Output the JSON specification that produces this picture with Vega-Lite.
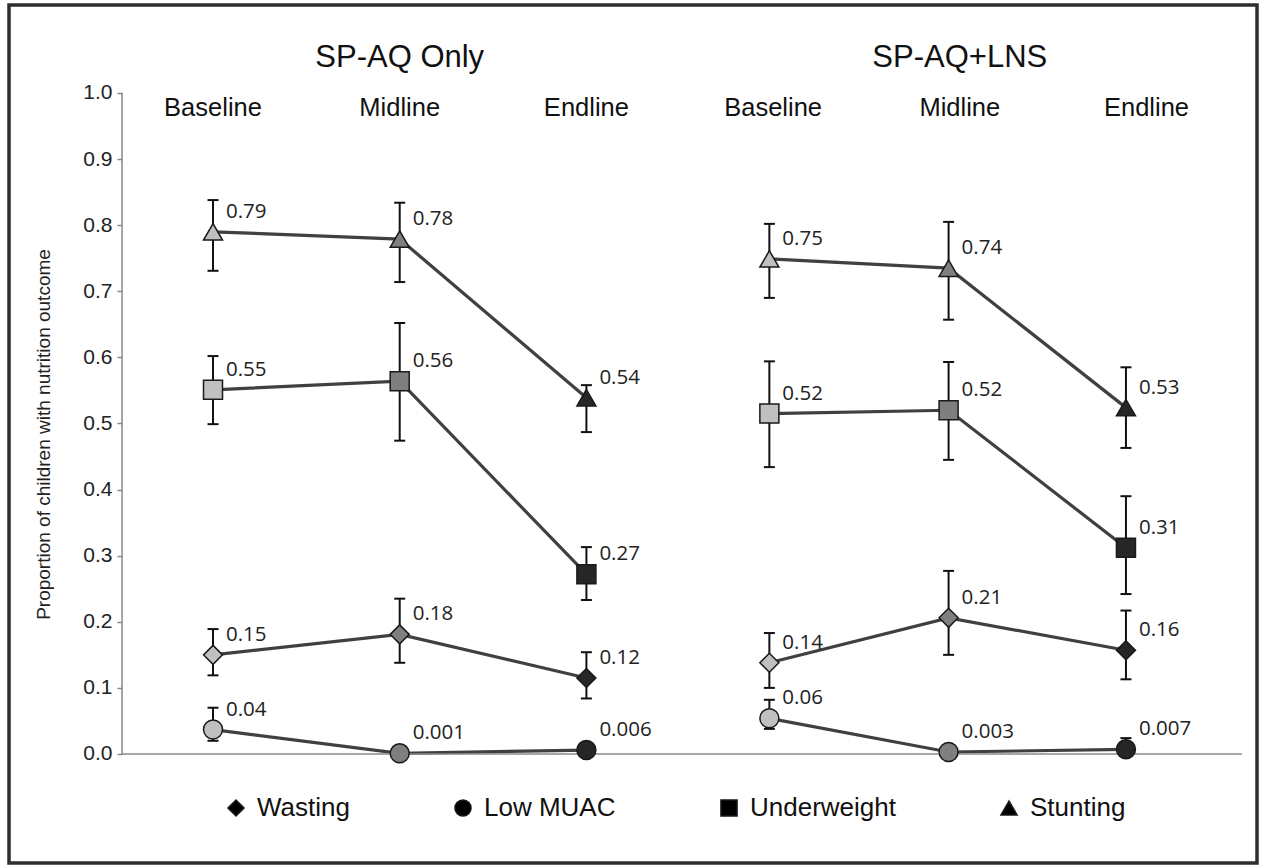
{
  "$schema": "https://vega.github.io/schema/vega-lite/v6.json",
  "width": 1261,
  "height": 865,
  "autosize": {"type": "fit", "contains": "padding"},
  "padding": {"left": 9, "top": 5, "right": 4, "bottom": 2},
  "background": "white",
  "config": {
    "view": {"stroke": "#2e2e2e", "strokeWidth": 3.5},
    "axis": {
      "labelFont": "Liberation Sans",
      "labelFontSize": 21,
      "labelColor": "#222222",
      "titleFont": "Liberation Sans",
      "titleFontSize": 19,
      "titleFontWeight": "normal",
      "titleColor": "#222222"
    },
    "axisY": {
      "offset": -113,
      "domain": false,
      "grid": false,
      "ticks": true,
      "tickSize": 5,
      "tickWidth": 1.5,
      "tickColor": "#888888",
      "labelFont": "Liberation Sans",
      "labelFontSize": 21,
      "labelColor": "#222222",
      "labelPadding": 5,
      "titleFont": "Liberation Sans",
      "titleFontSize": 19,
      "titleFontWeight": "normal",
      "titleColor": "#222222",
      "titlePadding": 29
    }
  },
  "datasets": {
    "points": [
      {"group": "SP-AQ Only", "time": "Baseline", "outcome": "Wasting", "pos": 1, "value": 0.150, "lo": 0.119, "hi": 0.189, "label": "0.15"},
      {"group": "SP-AQ Only", "time": "Midline", "outcome": "Wasting", "pos": 2, "value": 0.181, "lo": 0.138, "hi": 0.235, "label": "0.18"},
      {"group": "SP-AQ Only", "time": "Endline", "outcome": "Wasting", "pos": 3, "value": 0.115, "lo": 0.084, "hi": 0.154, "label": "0.12"},
      {"group": "SP-AQ Only", "time": "Baseline", "outcome": "Low MUAC", "pos": 1, "value": 0.037, "lo": 0.020, "hi": 0.070, "label": "0.04"},
      {"group": "SP-AQ Only", "time": "Midline", "outcome": "Low MUAC", "pos": 2, "value": 0.001, "lo": 0.001, "hi": 0.001, "label": "0.001"},
      {"group": "SP-AQ Only", "time": "Endline", "outcome": "Low MUAC", "pos": 3, "value": 0.006, "lo": 0.002, "hi": 0.010, "label": "0.006"},
      {"group": "SP-AQ Only", "time": "Baseline", "outcome": "Underweight", "pos": 1, "value": 0.551, "lo": 0.499, "hi": 0.602, "label": "0.55"},
      {"group": "SP-AQ Only", "time": "Midline", "outcome": "Underweight", "pos": 2, "value": 0.564, "lo": 0.474, "hi": 0.652, "label": "0.56"},
      {"group": "SP-AQ Only", "time": "Endline", "outcome": "Underweight", "pos": 3, "value": 0.272, "lo": 0.233, "hi": 0.313, "label": "0.27"},
      {"group": "SP-AQ Only", "time": "Baseline", "outcome": "Stunting", "pos": 1, "value": 0.790, "lo": 0.731, "hi": 0.838, "label": "0.79"},
      {"group": "SP-AQ Only", "time": "Midline", "outcome": "Stunting", "pos": 2, "value": 0.779, "lo": 0.714, "hi": 0.834, "label": "0.78"},
      {"group": "SP-AQ Only", "time": "Endline", "outcome": "Stunting", "pos": 3, "value": 0.539, "lo": 0.487, "hi": 0.558, "label": "0.54"},
      {"group": "SP-AQ+LNS", "time": "Baseline", "outcome": "Wasting", "pos": 3.98, "value": 0.138, "lo": 0.100, "hi": 0.183, "label": "0.14"},
      {"group": "SP-AQ+LNS", "time": "Midline", "outcome": "Wasting", "pos": 4.94, "value": 0.206, "lo": 0.150, "hi": 0.277, "label": "0.21"},
      {"group": "SP-AQ+LNS", "time": "Endline", "outcome": "Wasting", "pos": 5.89, "value": 0.157, "lo": 0.113, "hi": 0.217, "label": "0.16"},
      {"group": "SP-AQ+LNS", "time": "Baseline", "outcome": "Low MUAC", "pos": 3.98, "value": 0.054, "lo": 0.038, "hi": 0.082, "label": "0.06"},
      {"group": "SP-AQ+LNS", "time": "Midline", "outcome": "Low MUAC", "pos": 4.94, "value": 0.003, "lo": 0.001, "hi": 0.005, "label": "0.003"},
      {"group": "SP-AQ+LNS", "time": "Endline", "outcome": "Low MUAC", "pos": 5.89, "value": 0.007, "lo": 0.000, "hi": 0.024, "label": "0.007"},
      {"group": "SP-AQ+LNS", "time": "Baseline", "outcome": "Underweight", "pos": 3.98, "value": 0.515, "lo": 0.434, "hi": 0.594, "label": "0.52"},
      {"group": "SP-AQ+LNS", "time": "Midline", "outcome": "Underweight", "pos": 4.94, "value": 0.520, "lo": 0.445, "hi": 0.593, "label": "0.52"},
      {"group": "SP-AQ+LNS", "time": "Endline", "outcome": "Underweight", "pos": 5.89, "value": 0.312, "lo": 0.242, "hi": 0.390, "label": "0.31"},
      {"group": "SP-AQ+LNS", "time": "Baseline", "outcome": "Stunting", "pos": 3.98, "value": 0.749, "lo": 0.690, "hi": 0.802, "label": "0.75"},
      {"group": "SP-AQ+LNS", "time": "Midline", "outcome": "Stunting", "pos": 4.94, "value": 0.735, "lo": 0.657, "hi": 0.805, "label": "0.74"},
      {"group": "SP-AQ+LNS", "time": "Endline", "outcome": "Stunting", "pos": 5.89, "value": 0.524, "lo": 0.463, "hi": 0.585, "label": "0.53"}
    ],
    "headers": [
      {"pos": 1, "name": "Baseline"},
      {"pos": 2, "name": "Midline"},
      {"pos": 3, "name": "Endline"},
      {"pos": 4, "name": "Baseline"},
      {"pos": 5, "name": "Midline"},
      {"pos": 6, "name": "Endline"}
    ],
    "titles": [
      {"pos": 2, "name": "SP-AQ Only"},
      {"pos": 5, "name": "SP-AQ+LNS"}
    ]
  },
  "layer": [
    {
      "data": {"name": "points"},
      "mark": {"type": "line", "color": "#404040", "strokeWidth": 3.2},
      "encoding": {
        "x": {"field": "pos", "type": "quantitative", "axis": null, "scale": {"domain": [-0.0927, 6.5919], "nice": false, "zero": false}},
        "y": {
          "field": "value", "type": "quantitative",
          "title": "Proportion of children with nutrition outcome",
          "scale": {"domain": [-0.1649, 1.1331], "nice": false, "zero": false},
          "axis": {"values": [0, 0.1, 0.2, 0.3, 0.4, 0.5, 0.6, 0.7, 0.8, 0.9, 1.0], "format": ".1f", "labelFontSize": 21, "labelFont": "Liberation Sans", "labelColor": "#222222", "titleFontSize": 19, "titlePadding": 29}
        },
        "detail": [{"field": "group"}, {"field": "outcome"}],
        "order": {"field": "pos"}
      }
    },
    {
      "data": {"values": [{}]},
      "mark": {"type": "rule", "color": "#888888", "strokeWidth": 1.5},
      "encoding": {
        "x": {"datum": 0.5126, "axis": null},
        "y": {"datum": 0, "title": "Proportion of children with nutrition outcome", "axis": {"values": [0, 0.1, 0.2, 0.3, 0.4, 0.5, 0.6, 0.7, 0.8, 0.9, 1.0], "format": ".1f", "labelFontSize": 21, "labelFont": "Liberation Sans", "labelColor": "#222222", "titleFontSize": 19, "titlePadding": 29}},
        "y2": {"datum": 1}
      }
    },
    {
      "data": {"values": [{}]},
      "mark": {"type": "rule", "color": "#888888", "strokeWidth": 1.5},
      "encoding": {
        "x": {"datum": 0.5126, "axis": null},
        "x2": {"datum": 6.511},
        "y": {"datum": 0, "title": "Proportion of children with nutrition outcome", "axis": {"values": [0, 0.1, 0.2, 0.3, 0.4, 0.5, 0.6, 0.7, 0.8, 0.9, 1.0], "format": ".1f", "labelFontSize": 21, "labelFont": "Liberation Sans", "labelColor": "#222222", "titleFontSize": 19, "titlePadding": 29}}
      }
    },
    {
      "data": {"name": "points"},
      "mark": {"type": "rule", "color": "#111111", "strokeWidth": 2},
      "encoding": {
        "x": {"field": "pos", "type": "quantitative", "axis": null},
        "y": {"field": "lo", "type": "quantitative", "title": "Proportion of children with nutrition outcome", "axis": {"values": [0, 0.1, 0.2, 0.3, 0.4, 0.5, 0.6, 0.7, 0.8, 0.9, 1.0], "format": ".1f", "labelFontSize": 21, "labelFont": "Liberation Sans", "labelColor": "#222222", "titleFontSize": 19, "titlePadding": 29}},
        "y2": {"field": "hi"}
      }
    },
    {
      "data": {"name": "points"},
      "mark": {"type": "point", "shape": "stroke", "size": 121, "filled": false, "stroke": "#111111", "strokeWidth": 2, "opacity": 1},
      "encoding": {
        "x": {"field": "pos", "type": "quantitative", "axis": null},
        "y": {"field": "lo", "type": "quantitative", "title": "Proportion of children with nutrition outcome", "axis": {"values": [0, 0.1, 0.2, 0.3, 0.4, 0.5, 0.6, 0.7, 0.8, 0.9, 1.0], "format": ".1f", "labelFontSize": 21, "labelFont": "Liberation Sans", "labelColor": "#222222", "titleFontSize": 19, "titlePadding": 29}}
      }
    },
    {
      "data": {"name": "points"},
      "mark": {"type": "point", "shape": "stroke", "size": 121, "filled": false, "stroke": "#111111", "strokeWidth": 2, "opacity": 1},
      "encoding": {
        "x": {"field": "pos", "type": "quantitative", "axis": null},
        "y": {"field": "hi", "type": "quantitative", "title": "Proportion of children with nutrition outcome", "axis": {"values": [0, 0.1, 0.2, 0.3, 0.4, 0.5, 0.6, 0.7, 0.8, 0.9, 1.0], "format": ".1f", "labelFontSize": 21, "labelFont": "Liberation Sans", "labelColor": "#222222", "titleFontSize": 19, "titlePadding": 29}}
      }
    },
    {
      "data": {"name": "points"},
      "mark": {"type": "point", "filled": true, "size": 361, "stroke": "#1a1a1a", "strokeWidth": 1.5, "opacity": 1},
      "encoding": {
        "x": {"field": "pos", "type": "quantitative", "axis": null},
        "y": {"field": "value", "type": "quantitative", "title": "Proportion of children with nutrition outcome", "axis": {"values": [0, 0.1, 0.2, 0.3, 0.4, 0.5, 0.6, 0.7, 0.8, 0.9, 1.0], "format": ".1f", "labelFontSize": 21, "labelFont": "Liberation Sans", "labelColor": "#222222", "titleFontSize": 19, "titlePadding": 29}},
        "shape": {
          "field": "outcome", "type": "nominal",
          "scale": {"domain": ["Wasting", "Low MUAC", "Underweight", "Stunting"], "range": ["diamond", "circle", "square", "triangle-up"]},
          "legend": {
            "title": null,
            "orient": "none",
            "legendX": 214,
            "legendY": 790,
            "direction": "horizontal",
            "columns": 4,
            "columnPadding": 100,
            "padding": 0,
            "symbolSize": 260,
            "labelFont": "Liberation Sans",
            "labelFontSize": 26,
            "labelColor": "#111111",
            "labelOffset": 8,
            "labelLimit": 0,
            "encode": {"symbols": {"update": {"fill": {"value": "#000000"}, "stroke": {"value": "#000000"}, "opacity": {"value": 1}}}}
          }
        },
        "fill": {
          "field": "time", "type": "nominal",
          "scale": {"domain": ["Baseline", "Midline", "Endline"], "range": ["#c0c0c0", "#7f7f7f", "#262626"]},
          "legend": null
        }
      }
    },
    {
      "data": {"name": "points"},
      "mark": {"type": "text", "font": "Open Sans", "fontSize": 20.5, "color": "#222222", "align": "left", "baseline": "middle", "dx": 13, "dy": -20},
      "encoding": {
        "x": {"field": "pos", "type": "quantitative", "axis": null},
        "y": {"field": "value", "type": "quantitative", "title": "Proportion of children with nutrition outcome", "axis": {"values": [0, 0.1, 0.2, 0.3, 0.4, 0.5, 0.6, 0.7, 0.8, 0.9, 1.0], "format": ".1f", "labelFontSize": 21, "labelFont": "Liberation Sans", "labelColor": "#222222", "titleFontSize": 19, "titlePadding": 29}},
        "text": {"field": "label"}
      }
    },
    {
      "data": {"name": "headers"},
      "mark": {"type": "text", "font": "Liberation Sans", "fontSize": 25.5, "color": "#111111", "align": "center", "baseline": "alphabetic", "dy": 23},
      "encoding": {
        "x": {"field": "pos", "type": "quantitative", "axis": null},
        "y": {"datum": 1, "title": "Proportion of children with nutrition outcome", "axis": {"values": [0, 0.1, 0.2, 0.3, 0.4, 0.5, 0.6, 0.7, 0.8, 0.9, 1.0], "format": ".1f", "labelFontSize": 21, "labelFont": "Liberation Sans", "labelColor": "#222222", "titleFontSize": 19, "titlePadding": 29}},
        "text": {"field": "name"}
      }
    },
    {
      "data": {"name": "titles"},
      "mark": {"type": "text", "font": "Liberation Sans", "fontSize": 31, "color": "#111111", "align": "center", "baseline": "alphabetic", "dy": -26},
      "encoding": {
        "x": {"field": "pos", "type": "quantitative", "axis": null},
        "y": {"datum": 1, "title": "Proportion of children with nutrition outcome", "axis": {"values": [0, 0.1, 0.2, 0.3, 0.4, 0.5, 0.6, 0.7, 0.8, 0.9, 1.0], "format": ".1f", "labelFontSize": 21, "labelFont": "Liberation Sans", "labelColor": "#222222", "titleFontSize": 19, "titlePadding": 29}},
        "text": {"field": "name"}
      }
    }
  ]
}
